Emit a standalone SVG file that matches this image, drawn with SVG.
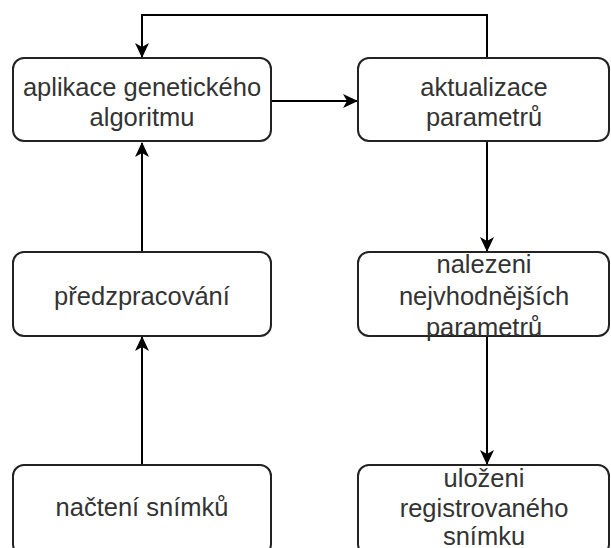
<svg xmlns="http://www.w3.org/2000/svg" width="611" height="548" viewBox="0 0 611 548">
<style>
.box{fill:#fff;stroke:#222;stroke-width:2}
.t{font-family:"Liberation Sans",Arial,sans-serif;font-size:25.5px;fill:#333;text-anchor:middle}
.c{fill:none;stroke:#000;stroke-width:2}
</style>
<defs>
<marker id="ah" markerWidth="16" markerHeight="16" viewBox="0 0 16 16" refX="14" refY="8" orient="auto" markerUnits="userSpaceOnUse">
<path d="M0,1 L15,8 L0,15 L4,8 Z" fill="#000"/>
</marker>
</defs>
<g id="connectors">
<path class="c" d="M487,58 V15 H142 V57" marker-end="url(#ah)"/>
<path class="c" d="M271,101 H357" marker-end="url(#ah)"/>
<path class="c" d="M142,252 V143" marker-end="url(#ah)"/>
<path class="c" d="M142,465 V337" marker-end="url(#ah)"/>
<path class="c" d="M487,141 V251" marker-end="url(#ah)"/>
<path class="c" d="M487,336 V464" marker-end="url(#ah)"/>
</g>
<g id="n1"><rect class="box" x="13" y="58" width="258" height="83" rx="11"/>
<text class="t" x="142" y="96">aplikace genetického</text><text class="t" x="142" y="126">algoritmu</text></g>
<g id="n2"><rect class="box" x="358" y="58" width="251" height="83" rx="11"/>
<text class="t" x="484" y="96">aktualizace</text><text class="t" x="484" y="126">parametrů</text></g>
<g id="n3"><rect class="box" x="13" y="252" width="258" height="84" rx="11"/>
<text class="t" x="142" y="305">předzpracování</text></g>
<g id="n4"><rect class="box" x="358" y="252" width="251" height="84" rx="11"/>
<text class="t" x="484" y="273">nalezeni</text><text class="t" x="484" y="305">nejvhodnějších</text><text class="t" x="484" y="336">parametrů</text></g>
<g id="n5"><rect class="box" x="13" y="465" width="258" height="90" rx="11"/>
<text class="t" x="142" y="516">načtení snímků</text></g>
<g id="n6"><rect class="box" x="358" y="465" width="251" height="90" rx="11"/>
<text class="t" x="484" y="487">uloženi</text><text class="t" x="484" y="517">registrovaného</text><text class="t" x="484" y="545">snímku</text></g>
</svg>
